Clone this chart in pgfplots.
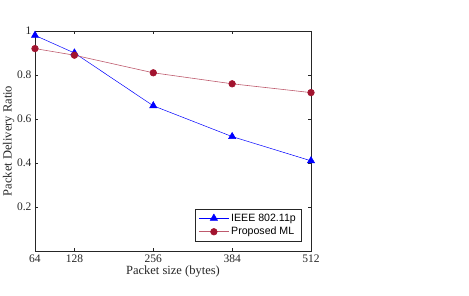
\documentclass[border=0pt]{standalone}
\usepackage{pgfplots}
\pgfplotsset{compat=1.18}
\usepackage{fontspec}
\setmainfont{Liberation Serif}
\newfontfamily\arial{Liberation Sans}
\definecolor{mred}{rgb}{0.635,0.078,0.184}
\definecolor{axgray}{rgb}{0.15,0.15,0.15}
\begin{document}
\begin{tikzpicture}[x=1pt,y=1pt]
\useasboundingbox (-35,-45) rectangle (434,251);
\begin{axis}[
  at={(0,0)}, anchor=south west,
  scale only axis, width=276pt, height=220pt,
  xmin=64, xmax=512, ymin=0, ymax=1,
  xtick={64,128,256,384,512},
  ytick={0.2,0.4,0.6,0.8,1},
  yticklabels={0.2,0.4,0.6,0.8,1},
  tick align=inside,
  major tick length=3pt,
  axis line style={axgray, line width=0.5pt},
  every tick/.style={axgray, line width=0.5pt},
  tick label style={font=\fontsize{11.5}{13}\selectfont, text=axgray},
  /pgf/number format/assume math mode=true,
  xlabel={Packet size (bytes)},
  ylabel={Packet Delivery Ratio},
  label style={font=\fontsize{12.5}{14}\selectfont, text=axgray},
  xlabel style={yshift=3pt},
  ylabel style={yshift=-4pt},
  legend style={at={(rel axis cs:0.964,0.045)}, anchor=south east,
    font=\arial\fontsize{10.6}{12}\selectfont, draw=axgray, line width=0.5pt,
    inner xsep=3pt, inner ysep=2.5pt, row sep=0.5pt},
  legend cell align=left,
  legend image code/.code={
    \draw[#1, mark repeat=2, mark phase=2] plot coordinates {(0pt,0pt) (15pt,0pt) (30pt,0pt)};
  },
]
\addplot[color=blue, line width=0.5pt, mark=triangle*, mark size=4.2pt, mark options={fill=blue, draw=blue}]
  coordinates {(64,0.98) (128,0.90) (256,0.66) (384,0.52) (512,0.41)};
\addlegendentry{IEEE 802.11p}
\addplot[color=mred!70!white, line width=0.6pt, mark=*, mark size=3.3pt, mark options={fill=mred, draw=mred}]
  coordinates {(64,0.92) (128,0.89) (256,0.81) (384,0.76) (512,0.72)};
\addlegendentry{Proposed ML}
\end{axis}
\end{tikzpicture}
\end{document}
